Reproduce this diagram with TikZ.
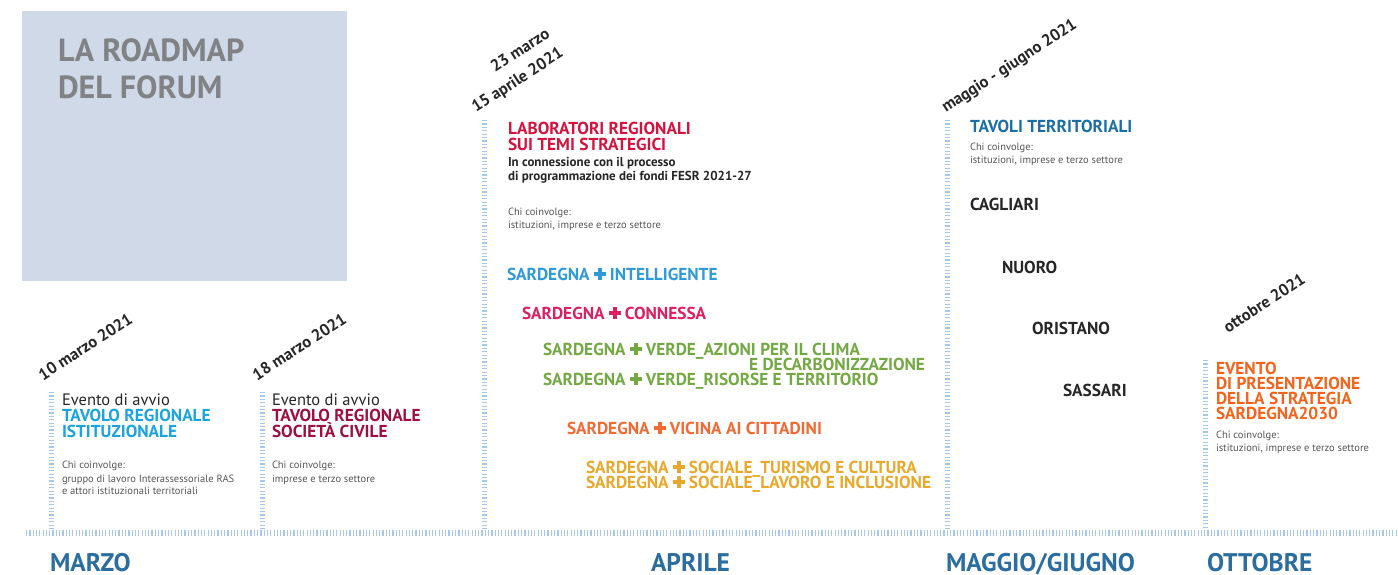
\documentclass[tikz,border=0pt]{standalone}
\usepackage{fontspec}
\setmainfont{PT Sans}
\definecolor{panel}{HTML}{CFD9E7}
\definecolor{titlegray}{HTML}{808285}
\definecolor{tick}{HTML}{A6C8EC}
\definecolor{month}{HTML}{2B6D9E}
\definecolor{darktxt}{HTML}{262626}
\definecolor{smalltxt}{HTML}{555555}
\definecolor{cyanb}{HTML}{1AA3DE}
\definecolor{wine}{HTML}{9C0F3F}
\definecolor{crimson}{HTML}{D5123E}
\definecolor{intel}{HTML}{2F9AD8}
\definecolor{conn}{HTML}{DC1F62}
\definecolor{verde}{HTML}{73A843}
\definecolor{vicina}{HTML}{F06A32}
\definecolor{sociale}{HTML}{E8A82C}
\definecolor{tavoli}{HTML}{1B6FA4}
\definecolor{evento}{HTML}{F3631B}
% heavy greek cross drawn with two rules
\newcommand\pl{\rule[3.8pt]{11.5pt}{4pt}\hspace{-7.75pt}\rule[0pt]{4pt}{11.6pt}\hspace{3.75pt}}
\tikzset{
  lbl/.style={inner sep=0pt, outer sep=0pt, anchor=base west},
  title/.style={lbl, text=titlegray, font=\fontsize{32}{32}\selectfont\bfseries},
  datef/.style={lbl, rotate=33, text=darktxt, font=\fontsize{16.5}{16.5}\selectfont\bfseries},
  head/.style={lbl, font=\fontsize{17.3}{17.3}\selectfont\bfseries},
  intro/.style={lbl, text=darktxt, font=\fontsize{16.5}{16.5}\selectfont},
  small/.style={lbl, text=smalltxt, font=\fontsize{10.5}{10.5}\selectfont},
  sub/.style={lbl, text=darktxt, font=\fontsize{13}{13}\selectfont\bfseries},
  city/.style={head, text=darktxt},
  monthf/.style={lbl, text=month, font=\fontsize{25.5}{25.5}\selectfont\bfseries},
  vline/.style={draw=tick, line width=5pt, dash pattern=on 1.2pt off 2.2pt},
  hline/.style={draw=tick, line width=6pt, dash pattern=on 1.2pt off 2.1pt}
}
\begin{document}
\begin{tikzpicture}[x=1pt,y=-1pt]
\useasboundingbox (0,0) rectangle (1398,575);
% panel
\fill[panel] (22,11) rectangle (347,281);
\node[title] (t1) at (58,62) {LA ROADMAP};
\node[title] (t2) at (58,99) {DEL FORUM};
% timeline
\coordinate (tl) at (26,533);
\coordinate (tr) at (1398,533);
\draw[hline] (tl) -- (tr);
% vertical markers
\coordinate (v1t) at (51,392);  \coordinate (v1b) at (51,530);
\coordinate (v2t) at (262,392); \coordinate (v2b) at (262,530);
\coordinate (v3t) at (484,120); \coordinate (v3b) at (484,530);
\coordinate (v4t) at (947,120); \coordinate (v4b) at (947,530);
\coordinate (v5t) at (1205,360); \coordinate (v5b) at (1205,530);
\draw[vline] (v1t) -- (v1b);
\draw[vline] (v2t) -- (v2b);
\draw[vline] (v3t) -- (v3b);
\draw[vline] (v4t) -- (v4b);
\draw[vline] (v5t) -- (v5b);
% dates
\node[datef] (d1) at (43,381) {10 marzo 2021};
\node[datef] (d2) at (257,381) {18 marzo 2021};
\node[datef] (d3a) at (495,73) {23 marzo};
\node[datef] (d3b) at (476,113) {15 aprile 2021};
\node[datef] (d4) at (946,113) {maggio - giugno 2021};
\node[datef] (d5) at (1228,333) {ottobre 2021};
% block 1
\node[intro] (e1a) at (62,405) {Evento di avvio};
\node[head, text=cyanb] (e1b) at (62,421) {TAVOLO REGIONALE};
\node[head, text=cyanb] (e1c) at (62,437) {ISTITUZIONALE};
\node[small] (e1d) at (62,468) {Chi coinvolge:};
\node[small] (e1e) at (62,482) {gruppo di lavoro Interassessoriale RAS};
\node[small] (e1f) at (62,494) {e attori istituzionali territoriali};
% block 2
\node[intro] (e2a) at (272,405) {Evento di avvio};
\node[head, text=wine] (e2b) at (272,421) {TAVOLO REGIONALE};
\node[head, text=wine] (e2c) at (272,437) {SOCIETÀ CIVILE};
\node[small] (e2d) at (272,468) {Chi coinvolge:};
\node[small] (e2e) at (272,482) {imprese e terzo settore};
% block 3
\node[head, text=crimson] (l1) at (508,135) {LABORATORI REGIONALI};
\node[head, text=crimson] (l2) at (508,150) {SUI TEMI STRATEGICI};
\node[sub] (l3) at (508,167) {In connessione con il processo};
\node[sub] (l4) at (508,181) {di programmazione dei fondi FESR 2021-27};
\node[small] (l5) at (508,215) {Chi coinvolge:};
\node[small] (l6) at (508,228) {istituzioni, imprese e terzo settore};
\node[head, text=intel] (s1) at (507,280) {SARDEGNA \pl{} INTELLIGENTE};
\node[head, text=conn] (s2) at (522,319) {SARDEGNA \pl{} CONNESSA};
\node[head, text=verde] (s3) at (543,355) {SARDEGNA \pl{} VERDE\_AZIONI PER IL CLIMA};
\node[head, text=verde, anchor=base east] (s3b) at (925,370) {E DECARBONIZZAZIONE};
\node[head, text=verde] (s4) at (543,385) {SARDEGNA \pl{} VERDE\_RISORSE E TERRITORIO};
\node[head, text=vicina] (s5) at (567,434) {SARDEGNA \pl{} VICINA AI CITTADINI};
\node[head, text=sociale] (s6) at (586,473) {SARDEGNA \pl{} SOCIALE\_TURISMO E CULTURA};
\node[head, text=sociale] (s7) at (586,488) {SARDEGNA \pl{} SOCIALE\_LAVORO E INCLUSIONE};
% block 4
\node[head, text=tavoli] (tt) at (970,133) {TAVOLI TERRITORIALI};
\node[small] (tt1) at (970,151) {Chi coinvolge:};
\node[small] (tt2) at (970,164) {istituzioni, imprese e terzo settore};
\node[city] (c1) at (970,210) {CAGLIARI};
\node[city] (c2) at (1002,273) {NUORO};
\node[city] (c3) at (1032,334) {ORISTANO};
\node[city] (c4) at (1063,396) {SASSARI};
% block 5
\node[head, text=evento] (ev1) at (1216,374) {EVENTO};
\node[head, text=evento] (ev2) at (1216,389) {DI PRESENTAZIONE};
\node[head, text=evento] (ev3) at (1216,404) {DELLA STRATEGIA};
\node[head, text=evento] (ev4) at (1216,419) {SARDEGNA2030};
\node[small] (ev5) at (1216,438) {Chi coinvolge:};
\node[small] (ev6) at (1216,451) {istituzioni, imprese e terzo settore};
% months
\node[monthf] (m1) at (50,571) {MARZO};
\node[monthf] (m2) at (651,571) {APRILE};
\node[monthf] (m3) at (946,571) {MAGGIO/GIUGNO};
\node[monthf] (m4) at (1207,571) {OTTOBRE};
\end{tikzpicture}
\end{document}
